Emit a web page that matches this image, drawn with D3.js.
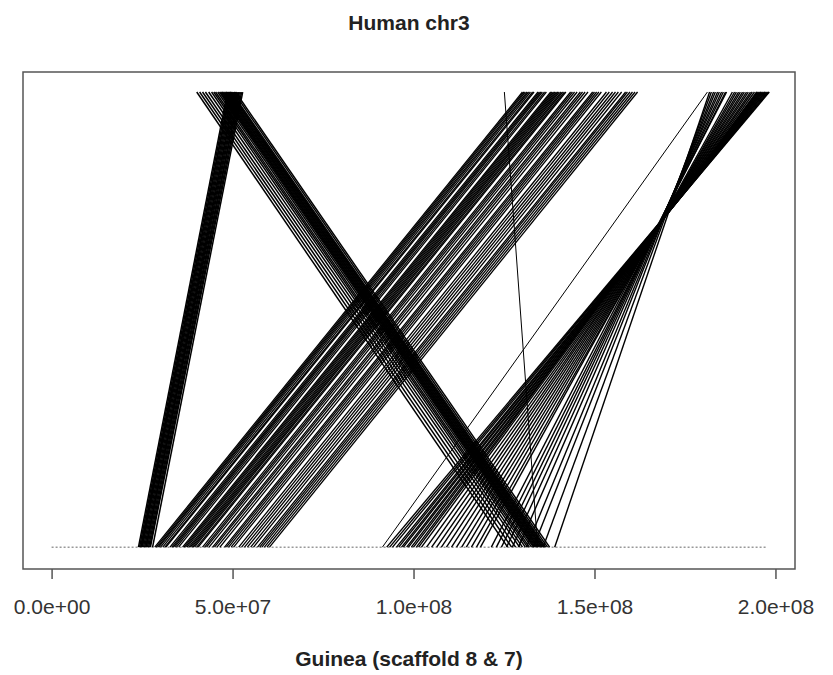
<!DOCTYPE html>
<html><head><meta charset="utf-8">
<script src="https://cdn.jsdelivr.net/npm/d3@7"></script>
<style>body{margin:0;background:#fff}</style>
</head><body>
<svg id="chart" width="833" height="675"></svg>
<script>
// Positions in Mb. Each synteny link joins a human chr3 position (top) to a Guinea position (bottom).
const blockA_human  = [48.6, 48.9, 49.2, 49.4, 49.7, 50.0, 50.3, 50.6, 50.8, 51.1, 51.4, 51.7, 51.9, 52.2, 52.5, 52.8];
const blockA_guinea = [24.0, 24.3, 24.6, 24.7, 24.9, 25.1, 25.4, 25.7, 26.0, 26.1, 26.2, 26.5, 26.8, 27.1, 27.3, 27.9];

const blockB_human  = [40.1, 40.9, 41.7, 42.5, 43.4, 44.2, 44.8, 45.3, 45.9, 46.4, 46.7, 47.0, 47.2, 47.5, 47.8, 48.1, 48.3, 48.6, 48.9, 49.2, 49.4, 49.7, 50.3, 50.8];
const blockB_guinea = [126.0, 127.1, 128.2, 129.3, 130.1, 130.9, 131.5, 132.0, 132.6, 133.1, 133.4, 133.7, 134.0, 134.3, 134.5, 134.8, 135.1, 135.4, 135.6, 135.9, 136.2, 136.5, 137.0, 137.6];

const blockC_human  = [130.1, 130.5, 130.9, 131.4, 131.8, 132.3, 132.9, 133.3,
                       134.4, 134.8, 135.2, 135.6, 136.2, 136.7,
                       137.9, 138.3, 138.7, 139.1, 139.5, 139.9, 140.3, 140.8, 141.2, 141.7, 142.1,
                       143.4, 143.9, 144.5, 145.2,
                       146.1, 146.7, 147.4, 148.2,
                       149.5, 150.0, 150.6, 151.2, 151.9,
                       153.3, 154.1, 155.0, 155.8, 156.6, 157.5,
                       158.6, 159.1, 159.8, 160.5, 161.2, 161.9];
const blockC_guinea = [28.5, 28.9, 29.3, 29.6, 30.1, 30.7, 31.3, 31.6,
                       32.7, 33.2, 33.6, 34.0, 34.5, 35.1,
                       36.2, 36.6, 37.0, 37.4, 37.9, 38.3, 38.7, 39.1, 39.5, 40.1, 40.5,
                       41.7, 42.3, 42.8, 43.5,
                       44.5, 45.0, 45.7, 46.5,
                       47.8, 48.3, 48.9, 49.6, 50.3,
                       51.7, 52.5, 53.3, 54.1, 55.0, 55.8,
                       56.9, 57.5, 58.1, 58.8, 59.5, 60.2];

const singleLinks_human  = [125.1, 181.2];
const singleLinks_guinea = [134.3, 91.4];

const blockD_human  = [181.8, 182.3, 182.9, 183.4, 184.0, 184.5, 185.1, 185.6, 186.2, 186.5,
                       188.1, 188.7, 189.2, 189.8, 190.3, 190.9, 191.4, 192.0, 192.5, 193.1, 193.6, 194.2, 194.8, 195.0, 195.3, 195.6, 195.9, 196.1, 196.4, 196.7, 197.0, 197.2, 197.5, 197.8, 198.1, 198.3];
const blockD_guinea = [139.0, 135.8, 133.1, 131.2, 129.0, 127.3, 125.7, 124.3, 122.9, 121.5,
                       118.5, 117.4, 116.0, 114.6, 113.3, 111.9, 110.5, 109.1, 107.7, 106.4, 105.0, 103.6, 102.2, 101.4, 100.8, 100.0, 99.4, 98.6, 98.1, 97.2, 96.7, 95.9, 95.3, 94.2, 93.4, 92.6];

const guineaExtent = [0, 197.5]; // Mb, scaffold span drawn as the dotted baseline
const tickValues = [0, 5e7, 1e8, 1.5e8, 2e8];
const tickLabels = ["0.0e+00", "5.0e+07", "1.0e+08", "1.5e+08", "2.0e+08"];
const chartTitle = "Human chr3";
const xTitle = "Guinea (scaffold 8 & 7)";

const MB = 1e6;
const blocks = [
  [blockA_human, blockA_guinea, 1.5],
  [blockB_human, blockB_guinea, 1.5],
  [blockC_human, blockC_guinea, 1.3],
  [singleLinks_human, singleLinks_guinea, 1],
  [blockD_human, blockD_guinea, 1.4]
];
const links = [];
blocks.forEach(([h, g, w]) => h.forEach((v, i) => links.push({human: v * MB, guinea: g[i] * MB, w})));

const svg = d3.select("#chart");
const span = (guineaExtent[1] - guineaExtent[0]) * MB;
const x = d3.scaleLinear()
  .domain([guineaExtent[0] * MB - 0.04 * span, guineaExtent[1] * MB + 0.04 * span])
  .range([23, 795]);
const y = d3.scaleLinear().domain([-0.048, 1.044]).range([569, 72]);

const font = "'Liberation Sans', Arial, Helvetica, sans-serif";

// dotted baseline (Guinea scaffold positions)
svg.append("line")
  .attr("x1", x(guineaExtent[0] * MB)).attr("x2", x(guineaExtent[1] * MB))
  .attr("y1", y(0)).attr("y2", y(0))
  .attr("stroke", "#999").attr("stroke-width", 1.5).attr("stroke-dasharray", "2,2");

// synteny links
svg.append("g").selectAll("line").data(links).join("line")
  .attr("x1", d => x(d.human)).attr("y1", y(1))
  .attr("x2", d => x(d.guinea)).attr("y2", y(0))
  .attr("stroke", "#000").attr("stroke-width", d => d.w);

// box
const [xr0, xr1] = x.range();
const [yr0, yr1] = y.range();
svg.append("rect")
  .attr("x", xr0).attr("y", yr1).attr("width", xr1 - xr0).attr("height", yr0 - yr1)
  .attr("fill", "none").attr("stroke", "#555").attr("stroke-width", 1.5);

// x axis
const ax = svg.append("g").attr("transform", `translate(0,${yr0})`)
  .call(d3.axisBottom(x).tickValues(tickValues).tickFormat((d, i) => tickLabels[i])
    .tickSize(10).tickSizeOuter(0).tickPadding(20));
ax.select(".domain").remove();
ax.selectAll(".tick line").attr("stroke", "#555").attr("stroke-width", 1.5);
ax.selectAll(".tick text").attr("fill", "#333").style("font-family", font).style("font-size", "21px");

// titles
svg.append("text").attr("x", (xr0 + xr1) / 2).attr("y", 30).attr("text-anchor", "middle")
  .style("font-family", font).style("font-size", "21px").style("font-weight", "bold").attr("fill", "#222")
  .text(chartTitle);
svg.append("text").attr("x", (xr0 + xr1) / 2).attr("y", 666).attr("text-anchor", "middle")
  .style("font-family", font).style("font-size", "21px").style("font-weight", "bold").attr("fill", "#222")
  .text(xTitle);
</script>
</body></html>
